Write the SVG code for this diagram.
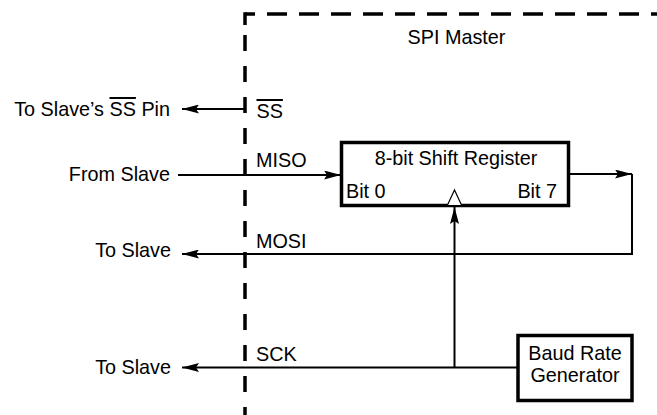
<svg xmlns="http://www.w3.org/2000/svg" width="657" height="415" viewBox="0 0 657 415">
<style>
text{font-family:"Liberation Sans",Arial,sans-serif;font-size:19.8px;fill:#000}
.box{fill:#fff;stroke:#000;stroke-width:3.5}
.wire{fill:none;stroke:#000;stroke-width:2}
.dash{fill:none;stroke:#000;stroke-width:3.5}
.ol{text-decoration:overline}
</style>
<defs>
<marker id="arr" viewBox="0 0 17 9" refX="17" refY="4.5" markerWidth="17" markerHeight="9" markerUnits="userSpaceOnUse" orient="auto">
<path d="M0,0 L17,4.5 L0,9 L3,4.5 Z" fill="#000"/>
</marker>
</defs>
<g id="boundary">
<path class="dash" d="M245,14 H657" stroke-dasharray="20 12" stroke-dashoffset="10"/>
<path class="dash" d="M245,12.25 V25"/>
<path class="dash" d="M245,35 V415" stroke-dasharray="16 15"/>
<text x="456.5" y="44" text-anchor="middle">SPI Master</text>
</g>
<g id="connectors">
<path class="wire" d="M245,109 H182" marker-end="url(#arr)"/>
<path class="wire" d="M178,175 H341" marker-end="url(#arr)"/>
<path class="wire" d="M569,174 H632" marker-end="url(#arr)"/>
<path class="wire" d="M632,174 V254 H182" marker-end="url(#arr)"/>
<path class="wire" d="M454.5,367.5 V207" marker-end="url(#arr)"/>
<path class="wire" d="M518,367.5 H182" marker-end="url(#arr)"/>
</g>
<g id="shift-register">
<rect class="box" x="341.5" y="142.5" width="227" height="63"/>
<text x="456" y="165" text-anchor="middle">8-bit Shift Register</text>
<text x="346" y="198">Bit 0</text>
<text x="557" y="198" text-anchor="end">Bit 7</text>
<path d="M447.5,205 L454.5,190 L461.5,205" fill="#fff" stroke="#000" stroke-width="1.2"/>
</g>
<g id="baud-rate-generator">
<rect class="box" x="518" y="335.5" width="114" height="65"/>
<text x="575" y="360" text-anchor="middle">Baud Rate</text>
<text x="575" y="382" text-anchor="middle">Generator</text>
</g>
<g id="labels">
<text x="170" y="116" text-anchor="end">To Slave’s <tspan class="ol">SS</tspan> Pin</text>
<text x="170" y="181" text-anchor="end">From Slave</text>
<text x="171" y="257" text-anchor="end">To Slave</text>
<text x="171" y="374" text-anchor="end">To Slave</text>
<text x="256.5" y="118"><tspan class="ol">SS</tspan></text>
<text x="256" y="166.5">MISO</text>
<text x="256" y="248">MOSI</text>
<text x="256" y="360.5">SCK</text>
</g>
</svg>
